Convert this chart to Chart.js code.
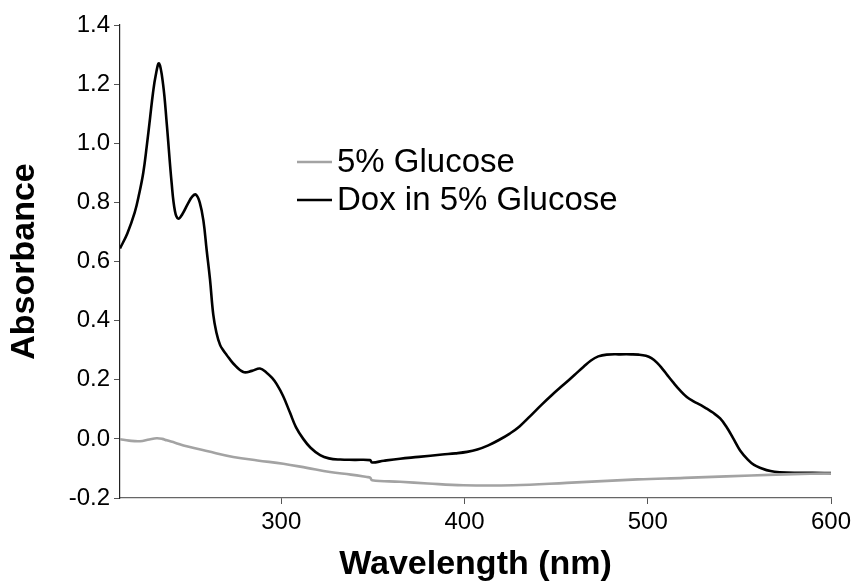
<!DOCTYPE html>
<html>
<head>
<meta charset="utf-8">
<script src="https://cdn.jsdelivr.net/npm/chart.js@4.4.0/dist/chart.umd.min.js"></script>
<style>
  html, body { margin: 0; padding: 0; background: #fff; }
  #wrap { width: 857px; height: 585px; }
</style>
</head>
<body>
<div id="wrap"><canvas id="myChart"></canvas></div>
<script>
// Series names (legend order)
const seriesNames = ['5% Glucose', 'Dox in 5% Glucose'];

// 5% Glucose (blank) spectrum
const glucoseNm = [212, 217, 222.9, 228, 232, 235, 237.5, 242, 248.4, 260, 273.8, 287, 301.1, 314, 326.6, 338, 346.7, 348.5, 349.5, 364.8, 380, 399.4, 426.5, 455.7, 494.4, 520, 542.9, 570, 588.6, 600];
const glucoseAbs = [-0.001, -0.006, -0.008, -0.002, 0.002, 0.0, -0.005, -0.013, -0.025, -0.042, -0.061, -0.073, -0.084, -0.098, -0.112, -0.121, -0.129, -0.131, -0.14, -0.145, -0.151, -0.157, -0.157, -0.149, -0.137, -0.132, -0.127, -0.121, -0.118, -0.117];

// Dox in 5% Glucose spectrum
const doxNm = [212, 216, 220, 222.5, 224.7, 226.6, 228.4, 230, 231.5, 233.3, 235.5, 237.5, 240.2, 242, 243.8, 246, 249, 251.5, 253.5, 255.5, 257.5, 259.3, 261.1, 262.9, 264.6, 266.6, 268.5, 270.2, 273.8, 279.3, 284, 288.4, 292, 295, 297.5, 301, 304.8, 308, 312, 316, 321.2, 326, 332.1, 340, 348.5, 349.5, 356, 364.8, 375, 387.8, 395, 401.4, 407, 413, 419, 424.7, 430, 436, 442, 448, 454, 460, 465, 469, 473, 477.6, 485, 491, 495, 499, 502, 505, 508, 511, 514, 517.5, 521.3, 525, 529, 532.2, 535.5, 539.5, 543, 546.8, 550.4, 554.6, 558, 562.3, 567, 572, 580, 590, 600];
const doxAbs = [0.644, 0.695, 0.765, 0.83, 0.9, 0.99, 1.085, 1.17, 1.23, 1.27, 1.2, 1.067, 0.864, 0.77, 0.745, 0.76, 0.795, 0.82, 0.826, 0.8, 0.739, 0.638, 0.54, 0.42, 0.36, 0.318, 0.298, 0.284, 0.255, 0.226, 0.23, 0.238, 0.224, 0.206, 0.185, 0.145, 0.088, 0.04, 0.0, -0.03, -0.055, -0.066, -0.07, -0.071, -0.072, -0.08, -0.074, -0.067, -0.061, -0.053, -0.049, -0.044, -0.036, -0.022, -0.003, 0.018, 0.042, 0.078, 0.115, 0.15, 0.183, 0.216, 0.244, 0.265, 0.279, 0.285, 0.286, 0.286, 0.285, 0.281, 0.273, 0.258, 0.237, 0.213, 0.19, 0.165, 0.142, 0.127, 0.114, 0.102, 0.089, 0.069, 0.04, 0.0, -0.039, -0.07, -0.088, -0.1, -0.109, -0.113, -0.115, -0.115, -0.116];

// Axis ticks
const xTickValues = [300, 400, 500, 600];
const xMin = 212, xMax = 600;
const yMin = -0.2, yMax = 1.4, yStep = 0.2;

function toPoints(xs, ys) {
    return xs.map((x, i) => ({ x: x, y: ys[i] }));
}

// Simple in-plot legend, drawn from the dataset labels/colours
const insideLegend = {
    id: 'insideLegend',
    afterDraw(chart) {
        const c = chart.ctx;
        c.save();
        c.font = '33px "Liberation Sans", Arial, sans-serif';
        c.textBaseline = 'middle';
        c.fillStyle = '#000';
        chart.data.datasets.forEach((ds, i) => {
            const y = 162 + i * 38;
            c.strokeStyle = ds.borderColor;
            c.lineWidth = ds.borderWidth;
            c.beginPath();
            c.moveTo(297, y);
            c.lineTo(332, y);
            c.stroke();
            c.fillText(ds.label, 337, y + 1);
        });
        c.restore();
    }
};

const ctx = document.getElementById('myChart').getContext('2d');

const myChart = new Chart(ctx, {
    type: 'line',
    data: {
        datasets: [{
            label: seriesNames[0],
            data: toPoints(glucoseNm, glucoseAbs),
            borderColor: '#a3a3a3',
            borderWidth: 2.6,
            pointRadius: 0,
            tension: 0.4
        }, {
            label: seriesNames[1],
            data: toPoints(doxNm, doxAbs),
            borderColor: '#000000',
            borderWidth: 2.6,
            pointRadius: 0,
            tension: 0.4
        }]
    },
    options: {
        responsive: true,
        maintainAspectRatio: false,
        animation: false,
        layout: {
            padding: { top: 25, right: 26, bottom: 0, left: 0 }
        },
        plugins: {
            legend: { display: false },
            tooltip: { enabled: false }
        },
        scales: {
            x: {
                type: 'linear',
                min: xMin,
                max: xMax,
                afterBuildTicks: (scale) => {
                    scale.ticks = xTickValues.map(v => ({ value: v }));
                },
                afterFit: (scale) => { scale.height = 87; },
                border: { color: '#666', width: 1.2 },
                grid: {
                    drawOnChartArea: false,
                    color: '#555',
                    tickLength: 6
                },
                ticks: {
                    color: '#000',
                    padding: 4,
                    maxRotation: 0,
                    font: { family: '"Liberation Sans", Arial, sans-serif', size: 24 },
                    callback: (v) => String(v)
                },
                title: {
                    display: true,
                    text: 'Wavelength (nm)',
                    color: '#000',
                    padding: { top: 0, bottom: 0 },
                    font: { family: '"Liberation Sans", Arial, sans-serif', size: 34, weight: 'bold' }
                }
            },
            y: {
                min: yMin,
                max: yMax,
                afterFit: (scale) => { scale.width = 120; },
                border: { color: '#222', width: 1.2 },
                grid: {
                    drawOnChartArea: false,
                    color: '#555',
                    tickLength: 6
                },
                ticks: {
                    stepSize: yStep,
                    color: '#000',
                    padding: 4,
                    font: { family: '"Liberation Sans", Arial, sans-serif', size: 24 },
                    callback: (v) => (Math.abs(v) < 1e-9 ? 0 : Number(v)).toFixed(1)
                },
                title: {
                    display: true,
                    text: 'Absorbance',
                    color: '#000',
                    padding: { top: 4, bottom: 0 },
                    font: { family: '"Liberation Sans", Arial, sans-serif', size: 34, weight: 'bold' }
                }
            }
        }
    },
    plugins: [insideLegend]
});
</script>
</body>
</html>
